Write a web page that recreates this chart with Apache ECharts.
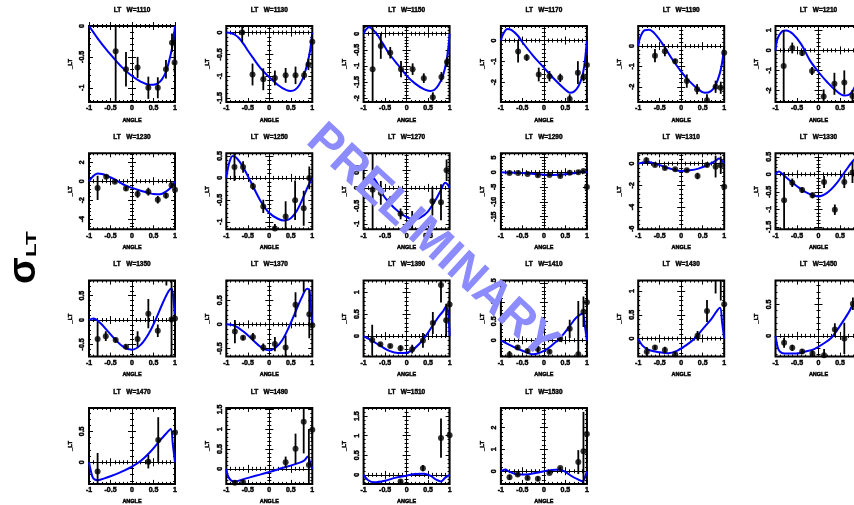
<!DOCTYPE html>
<html>
<head>
<meta charset="utf-8">
<script src="https://cdn.jsdelivr.net/npm/echarts@6/dist/echarts.min.js"></script>
<style>
  html, body { margin: 0; padding: 0; background: #fff; }
  #chart { width: 854px; height: 505px; }
</style>
</head>
<body>
<div id="chart"></div>
<script>
// Beam energies W (MeV), one panel each
const energies = [1110, 1130, 1150, 1170, 1190, 1210,
                  1230, 1250, 1270, 1290, 1310, 1330,
                  1350, 1370, 1390, 1410, 1430, 1450,
                  1470, 1490, 1510, 1530];

// Vertical ranges and major tick step of each panel
const yMin  = [-1.23, -1.59, -2.12, -2.95, -2.75, -2.58, -5.07, -1.17, -1.15, -19.3, -6.05, -1.57,
               -0.75, -0.67, -0.47, -0.43, -0.38, -0.33, -0.35, -0.38, -0.23, -0.58];
const yMax  = [0, 0.15, 0.24, 0.7, 0.99, 1.22, 2.94, 0.56, 0.96, 6.4, 0.95, 0.6,
               0.81, 0.91, 1.27, 1.57, 1.22, 0.88, 0.88, 1.54, 1.71, 2.9];
const yStep = [0.5, 0.5, 0.5, 1, 1, 1, 2, 0.5, 0.5, 5, 2, 0.5,
               0.5, 0.5, 0.5, 0.5, 0.5, 0.5, 0.5, 0.5, 0.5, 1];

// Measurements: [cos(angle), value, error]
const pts1110 = [[-0.38,-0.41,0.9],[-0.14,-0.70,0.28],[0.13,-0.67,0.17],[0.38,-1.0,0.18],[0.60,-1.0,0.17],[0.79,-0.70,0.15],[0.93,-0.27,0.15],[0.99,-0.59,0.16]];
const pts1130 = [[-0.63,0.0,0.22],[-0.39,-0.96,0.25],[-0.14,-1.07,0.25],[0.13,-1.04,0.17],[0.38,-0.98,0.17],[0.61,-0.98,0.2],[0.81,-0.98,0.1],[0.91,-0.73,0.13],[1.0,-0.21,0.17]];
const pts1150 = [[-0.79,-1.1,1.3],[-0.6,-0.38,0.4],[-0.38,-0.59,0.18],[-0.13,-1.1,0.25],[0.14,-1.1,0.18],[0.4,-1.38,0.15],[0.61,-1.97,0.15],[0.81,-1.34,0.15],[0.94,-0.88,0.15]];
const pts1170 = [[-0.6,-0.52,0.53],[-0.4,-0.81,0.16],[-0.12,-1.63,0.33],[0.13,-1.71,0.25],[0.38,-1.79,0.2],[0.6,-2.8,0.22],[0.79,-1.54,0.55],[0.92,-1.76,0.2],[1.0,-1.17,0.45]];
const pts1190 = [[-0.61,-0.47,0.33],[-0.38,-0.25,0.25],[-0.14,-0.75,0.12],[0.13,-1.72,0.33],[0.37,-2.12,0.25],[0.6,-2.67,0.3],[0.8,-2.0,0.3],[0.92,-2.05,0.3],[1.0,-0.33,0.33]];
const pts1210 = [[-0.81,-0.78,1.8],[-0.61,0.12,0.27],[-0.38,-0.13,0.15],[-0.15,-1.03,0.2],[0.12,-2.3,0.35],[0.37,-1.67,0.55],[0.6,-1.6,0.6],[0.79,-2.28,0.3]];
const pts1230 = [[-0.8,-0.71,1.28],[-0.6,0.46,0.2],[-0.4,-0.07,0.15],[-0.14,-0.78,0.2],[0.13,-1.35,0.4],[0.38,-1.1,0.4],[0.6,-1.95,0.4],[0.79,-1.52,0.3],[0.92,-0.43,0.3],[1.0,-0.9,0.3]];
const pts1250 = [[-0.81,0.25,0.32],[-0.61,0.25,0.13],[-0.38,-0.19,0.08],[-0.14,-0.65,0.15],[0.13,-1.15,0.1],[0.38,-0.88,0.35],[0.6,-0.51,0.45],[0.8,-0.69,0.4],[0.93,0.0,0.26]];
const pts1270 = [[-0.79,-0.05,1.1],[-0.6,-0.14,0.33],[-0.38,-0.35,0.12],[-0.14,-0.72,0.15],[0.13,-0.89,0.25],[0.38,-1.35,0.33],[0.6,-0.37,0.4],[0.8,-0.4,0.5],[0.93,0.49,0.3]];
const pts1290 = [[-0.8,-0.3,0.3],[-0.6,-0.3,0.25],[-0.38,-0.6,0.3],[-0.14,-1.0,0.5],[0.13,-0.9,0.4],[0.38,-1.3,0.5],[0.6,-0.2,0.3],[0.8,0.0,0.3],[0.92,0.4,0.4],[1.0,-5.0,0.5]];
const pts1310 = [[-0.81,0.31,0.25],[-0.61,-0.12,0.15],[-0.38,-0.4,0.15],[-0.14,-0.53,0.15],[0.13,-0.62,0.15],[0.38,-1.15,0.3],[0.6,-0.12,0.2],[0.8,-0.28,1.0],[0.92,-0.15,0.8],[1.0,-2.13,0.2]];
const pts1330 = [[-0.8,-0.74,0.8],[-0.61,-0.24,0.12],[-0.38,-0.45,0.08],[-0.14,-0.6,0.08],[0.13,-0.22,0.17],[0.38,-1.01,0.15],[0.6,-0.22,0.17],[0.79,0.05,0.3]];
const pts1350 = [[-0.8,-0.39,0.35],[-0.61,-0.33,0.1],[-0.38,-0.41,0.05],[-0.14,-0.55,0.05],[0.13,-0.39,0.16],[0.38,0.13,0.3],[0.6,-0.22,0.13],[0.8,0.88,0.17],[0.92,0.01,1.0],[1.0,0.03,0.1]];
const pts1370 = [[-0.8,-0.15,0.24],[-0.61,-0.28,0.05],[-0.38,-0.26,0.08],[-0.14,-0.48,0.08],[0.13,-0.41,0.15],[0.38,-0.48,0.25],[0.61,0.41,0.26],[0.8,0.95,0.27],[0.93,0.21,0.5],[1.0,-0.02,0.05]];
const pts1390 = [[-0.8,-0.09,0.35],[-0.61,-0.19,0.04],[-0.38,-0.23,0.04],[-0.14,-0.28,0.07],[0.13,-0.3,0.1],[0.38,-0.1,0.17],[0.61,0.3,0.25],[0.8,1.17,0.4],[0.92,0.36,0.38],[1.0,0.72,0.25]];
const pts1410 = [[-0.8,-0.38,0.1],[-0.61,-0.19,0.05],[-0.38,-0.28,0.05],[-0.14,-0.23,0.1],[0.13,-0.3,0.05],[0.38,0.03,0.06],[0.6,0.3,0.24],[0.8,-0.37,1.4],[0.92,0.75,0.4],[1.0,1.0,0.12]];
const pts1430 = [[-0.8,-0.28,0.1],[-0.61,-0.19,0.05],[-0.38,-0.24,0.07],[-0.14,-0.33,0.05],[0.38,0.06,0.1],[0.6,0.58,0.23],[0.8,1.3,0.35],[0.92,1.25,0.45],[1.0,0.72,0.3]];
const pts1450 = [[-0.8,-0.11,0.08],[-0.61,-0.19,0.05],[-0.38,-0.25,0.04],[-0.14,-0.28,0.05],[0.13,-0.31,0.1],[0.38,0.1,0.1],[0.6,-0.04,0.25],[0.8,0.51,0.1]];
const pts1470 = [[-0.8,-0.15,0.3],[0.38,0.01,0.11],[0.61,0.36,0.37],[1.0,0.48,0.05]];
const pts1490 = [[-0.8,-0.35,0.05],[-0.61,-0.34,0.05],[0.38,0.17,0.14],[0.61,0.51,0.38],[0.8,1.19,0.8],[0.92,0.1,0.9],[1.0,0.99,0.3]];
const pts1510 = [[-0.14,-0.17,0.05],[0.38,0.17,0.08],[0.8,0.94,0.5],[1.0,1.01,0.68]];
const pts1530 = [[-0.8,-0.28,0.12],[-0.61,-0.15,0.08],[-0.38,-0.31,0.08],[-0.14,-0.34,0.1],[0.13,-0.08,0.05],[0.38,0.15,0.05],[0.8,0.42,0.55],[0.92,0.92,1.8],[1.0,1.7,1.3]];

// Model curves: [cos(angle), value]
const fit1110 = [[-1,0],[-0.9,-0.1],[-0.8,-0.2],[-0.6,-0.38],[-0.4,-0.54],[-0.2,-0.69],[0,-0.81],[0.2,-0.9],[0.4,-0.95],[0.5,-0.95],[0.6,-0.93],[0.7,-0.86],[0.8,-0.72],[0.9,-0.46],[0.95,-0.28],[1,0]];
const fit1130 = [[-1,0],[-0.9,-0.01],[-0.8,-0.05],[-0.7,-0.13],[-0.6,-0.26],[-0.5,-0.41],[-0.4,-0.55],[-0.2,-0.82],[0,-1.02],[0.2,-1.2],[0.4,-1.32],[0.5,-1.34],[0.6,-1.31],[0.7,-1.2],[0.8,-1.0],[0.9,-0.65],[0.95,-0.4],[1,0]];
const fit1150 = [[-1,0],[-0.95,0.12],[-0.88,0.2],[-0.8,0.15],[-0.7,0],[-0.6,-0.2],[-0.5,-0.42],[-0.4,-0.63],[-0.2,-0.97],[0,-1.3],[0.2,-1.55],[0.4,-1.72],[0.55,-1.78],[0.65,-1.74],[0.75,-1.58],[0.85,-1.28],[0.92,-0.9],[0.97,-0.45],[1,0]];
const fit1170 = [[-1,0],[-0.95,0.3],[-0.85,0.55],[-0.75,0.5],[-0.6,0.22],[-0.5,-0.08],[-0.25,-0.73],[0,-1.3],[0.25,-1.87],[0.5,-2.36],[0.6,-2.5],[0.7,-2.45],[0.8,-2.2],[0.88,-1.8],[0.94,-1.2],[1,0]];
const fit1190 = [[-1,0],[-0.95,0.45],[-0.85,0.78],[-0.75,0.8],[-0.6,0.58],[-0.4,0],[-0.2,-0.67],[0,-1.25],[0.2,-1.75],[0.4,-2.13],[0.55,-2.3],[0.7,-2.2],[0.8,-1.92],[0.9,-1.33],[0.95,-0.83],[1,0]];
const fit1210 = [[-1,0],[-0.95,0.6],[-0.85,0.95],[-0.75,1.0],[-0.6,0.83],[-0.4,0.3],[-0.2,-0.5],[0,-1.08],[0.2,-1.58],[0.4,-2.0],[0.6,-2.25],[0.7,-2.22],[0.8,-2.0],[0.9,-1.5],[1,0]];
const fit1230 = [[-1,0],[-0.9,0.55],[-0.8,0.8],[-0.7,0.75],[-0.6,0.6],[-0.4,0.18],[-0.2,-0.35],[0,-0.71],[0.2,-1.0],[0.4,-1.24],[0.5,-1.35],[0.65,-1.37],[0.8,-1.06],[0.9,-0.7],[0.95,-0.43],[1,0]];
const fit1250 = [[-1,0],[-0.93,0.35],[-0.85,0.5],[-0.78,0.47],[-0.7,0.38],[-0.6,0.23],[-0.4,-0.15],[-0.2,-0.53],[0,-0.8],[0.2,-0.93],[0.35,-0.97],[0.5,-0.92],[0.65,-0.73],[0.8,-0.42],[0.9,-0.19],[1,0]];
const fit1270 = [[-1,0],[-0.93,0.22],[-0.85,0.3],[-0.75,0.25],[-0.65,0.05],[-0.55,-0.19],[-0.4,-0.42],[-0.2,-0.65],[0,-0.81],[0.15,-0.87],[0.3,-0.84],[0.5,-0.65],[0.7,-0.28],[0.8,-0.05],[0.9,0.14],[0.95,0.1],[1,0]];
const fit1290 = [[-1,0],[-0.6,-0.2],[-0.2,-0.6],[0,-0.85],[0.2,-0.95],[0.5,-0.7],[0.8,-0.1],[0.9,0.2],[1,0]];
const fit1310 = [[-1,0],[-0.8,0.15],[-0.6,0],[-0.4,-0.28],[-0.2,-0.53],[0,-0.68],[0.2,-0.62],[0.4,-0.46],[0.6,-0.15],[0.8,0.25],[0.88,0.46],[0.95,0.25],[1,0]];
const fit1330 = [[-1,0],[-0.92,0.08],[-0.85,0.02],[-0.7,-0.14],[-0.5,-0.34],[-0.3,-0.51],[-0.1,-0.61],[0,-0.63],[0.2,-0.53],[0.4,-0.29],[0.6,0.05],[0.8,0.38],[0.9,0.48],[0.96,0.3],[1,0]];
const fit1350 = [[-1,0],[-0.9,0.03],[-0.75,-0.05],[-0.6,-0.19],[-0.4,-0.39],[-0.2,-0.55],[0,-0.61],[0.2,-0.51],[0.4,-0.26],[0.55,0.01],[0.7,0.32],[0.85,0.59],[0.92,0.65],[0.97,0.35],[1,0]];
const fit1370 = [[-1,0],[-0.8,-0.03],[-0.6,-0.15],[-0.4,-0.31],[-0.2,-0.47],[0,-0.54],[0.15,-0.48],[0.3,-0.33],[0.45,-0.07],[0.6,0.24],[0.75,0.55],[0.88,0.74],[0.93,0.72],[0.97,0.34],[1,0]];
const fit1390 = [[-1,0],[-0.8,-0.11],[-0.6,-0.23],[-0.4,-0.34],[-0.2,-0.39],[0,-0.38],[0.2,-0.27],[0.4,-0.06],[0.6,0.23],[0.75,0.45],[0.85,0.57],[0.92,0.68],[0.97,0.5],[1,0]];
const fit1410 = [[-1,0],[-0.8,-0.12],[-0.6,-0.23],[-0.4,-0.32],[-0.25,-0.37],[0,-0.28],[0.2,-0.12],[0.4,0.09],[0.6,0.37],[0.75,0.59],[0.9,0.7],[0.95,0.4],[1,0]];
const fit1430 = [[-1,0],[-0.9,-0.15],[-0.75,-0.24],[-0.5,-0.29],[-0.3,-0.31],[-0.1,-0.26],[0.1,-0.15],[0.3,-0.01],[0.5,0.2],[0.7,0.41],[0.9,0.65],[0.95,0.34],[1,0]];
const fit1450 = [[-1,0],[-0.95,-0.18],[-0.9,-0.25],[-0.8,-0.28],[-0.5,-0.28],[-0.3,-0.25],[-0.1,-0.21],[0.1,-0.13],[0.3,-0.03],[0.5,0.16],[0.7,0.37],[0.8,0.5],[0.9,0.6],[0.96,0.35],[1,0]];
const fit1470 = [[-1,0],[-0.95,-0.16],[-0.9,-0.26],[-0.8,-0.29],[-0.6,-0.25],[-0.4,-0.2],[-0.2,-0.14],[0,-0.07],[0.2,0.02],[0.4,0.15],[0.6,0.31],[0.8,0.47],[0.9,0.54],[0.95,0.28],[1,0]];
const fit1490 = [[-1,0],[-0.97,-0.15],[-0.9,-0.28],[-0.8,-0.32],[-0.6,-0.26],[-0.3,-0.17],[0,-0.08],[0.3,0.02],[0.6,0.12],[0.8,0.2],[0.9,0.31],[0.95,0.15],[1,0]];
const fit1510 = [[-1,0],[-0.9,-0.13],[-0.75,-0.19],[-0.5,-0.15],[-0.25,-0.07],[0,-0.02],[0.2,0.02],[0.4,0.03],[0.55,-0.02],[0.7,-0.13],[0.8,-0.17],[0.9,-0.07],[1,0]];
const fit1530 = [[-1,0],[-0.9,0.08],[-0.8,-0.03],[-0.6,-0.15],[-0.4,-0.15],[-0.2,-0.08],[0,0],[0.2,0.06],[0.35,0.08],[0.5,-0.03],[0.65,-0.23],[0.8,-0.38],[0.9,-0.46],[0.95,-0.31],[1,0]];

const measured = [pts1110, pts1130, pts1150, pts1170, pts1190, pts1210, pts1230, pts1250, pts1270, pts1290, pts1310,
                  pts1330, pts1350, pts1370, pts1390, pts1410, pts1430, pts1450, pts1470, pts1490, pts1510, pts1530];
const curves = [fit1110, fit1130, fit1150, fit1170, fit1190, fit1210, fit1230, fit1250, fit1270, fit1290, fit1310,
                fit1330, fit1350, fit1370, fit1390, fit1410, fit1430, fit1450, fit1470, fit1490, fit1510, fit1530];

const FONT = '"Liberation Sans", Arial, sans-serif';
const INK = '#000';
const tickLine = { color: INK, width: 1 };
// heavier small print: bold face plus a thin outline
const heavy = { color: INK, fontFamily: FONT, fontWeight: 'bold', textBorderColor: INK, textBorderWidth: 0.45 };

// panel placement
const PANEL_W = 86, PANEL_H = 76;
const COL_STEP = 137.3, ROW_STEP = 127.3;
const LEFT0 = 89, TOP0 = 26;

function ticksBetween(lo, hi, step) {
  const out = [];
  for (let k = Math.ceil(lo / step - 1e-9); k * step <= hi + 1e-9; k++) {
    out.push(+(k * step).toFixed(4));
  }
  return out;
}

const grids = [], xAxes = [], yAxes = [], series = [], graphics = [];

energies.forEach((w, i) => {
  const col = i % 6, row = Math.floor(i / 6);
  const left = LEFT0 + col * COL_STEP;
  const top = TOP0 + row * ROW_STEP;

  grids.push({
    left: left, top: top, width: PANEL_W, height: PANEL_H,
    show: true, borderColor: INK, borderWidth: 2, backgroundColor: 'transparent',
    containLabel: false, outerBoundsMode: 'none'
  });

  const lo = yMin[i], hi = yMax[i], st = yStep[i];
  const major = ticksBetween(lo, hi, st);
  const minor = ticksBetween(lo, hi, st / 5);

  const xIdx = xAxes.length, yIdx = yAxes.length;

  // ---- horizontal axes: bottom frame (labels), top frame, zero line (both tick sides)
  const xBase = {
    gridIndex: i, type: 'value', min: -1, max: 1, interval: 0.5,
    splitLine: { show: false },
    axisLine: { show: false, onZero: false },
    axisLabel: { show: false },
    axisTick: { show: true, inside: true, length: 4, lineStyle: tickLine },
    minorTick: { show: true, splitNumber: 5, length: 2, lineStyle: tickLine }
  };
  xAxes.push(Object.assign({}, xBase, {
    position: 'bottom',
    axisLabel: Object.assign({ show: true, fontSize: 7, margin: 3 }, heavy),
    name: 'ANGLE', nameLocation: 'middle', nameGap: 15,
    nameTextStyle: Object.assign({ fontSize: 5.5 }, heavy)
  }));
  xAxes.push(Object.assign({}, xBase, { position: 'top' }));
  xAxes.push(Object.assign({}, xBase, {
    position: 'bottom',
    axisLine: { show: true, onZero: true, onZeroAxisIndex: yIdx, lineStyle: tickLine }
  }));
  xAxes.push(Object.assign({}, xBase, {
    position: 'bottom',
    axisLine: { show: false, onZero: true, onZeroAxisIndex: yIdx },
    axisTick: { show: true, inside: false, length: 4, lineStyle: tickLine }
  }));

  // ---- vertical axes: left frame (labels), right frame, zero line; major + minor ticks
  const yBase = {
    gridIndex: i, type: 'value', min: lo, max: hi,
    splitLine: { show: false },
    axisLine: { show: false, onZero: false },
    axisLabel: { show: false },
    axisTick: { show: true, inside: true, length: 4, customValues: major, lineStyle: tickLine }
  };
  const minorTicks = (inside) => ({ show: true, inside: inside, length: 2, customValues: minor, lineStyle: tickLine });
  yAxes.push(Object.assign({}, yBase, {
    position: 'left',
    axisLabel: Object.assign({ show: true, customValues: major, rotate: 90, fontSize: 7, margin: 3 }, heavy),
    name: '_LT', nameLocation: 'middle', nameGap: 16, nameRotate: 90,
    nameTextStyle: Object.assign({ fontSize: 6 }, heavy)
  }));
  yAxes.push(Object.assign({}, yBase, { position: 'left', axisTick: minorTicks(true) }));
  yAxes.push(Object.assign({}, yBase, { position: 'right' }));
  yAxes.push(Object.assign({}, yBase, { position: 'right', axisTick: minorTicks(true) }));
  const zeroY = { position: 'left', axisLine: { show: true, onZero: true, onZeroAxisIndex: xIdx, lineStyle: tickLine } };
  const zeroYHidden = { position: 'left', axisLine: { show: false, onZero: true, onZeroAxisIndex: xIdx } };
  yAxes.push(Object.assign({}, yBase, zeroY));
  yAxes.push(Object.assign({}, yBase, zeroYHidden,
    { axisTick: { show: true, inside: false, length: 4, customValues: major, lineStyle: tickLine } }));
  yAxes.push(Object.assign({}, yBase, zeroYHidden, { axisTick: minorTicks(true) }));
  yAxes.push(Object.assign({}, yBase, zeroYHidden, { axisTick: minorTicks(false) }));

  // ---- model curve
  series.push({
    type: 'line', xAxisIndex: xIdx, yAxisIndex: yIdx, data: curves[i],
    smooth: 0.35, showSymbol: false, silent: true, clip: true, z: 3,
    lineStyle: { color: '#0000ff', width: 2 }
  });
  // ---- error bars
  series.push({
    type: 'custom', xAxisIndex: xIdx, yAxisIndex: yIdx, data: measured[i], clip: true, silent: true, z: 4,
    renderItem: function (params, api) {
      const x = api.value(0), y = api.value(1), e = api.value(2);
      const p1 = api.coord([x, y - e]);
      const p2 = api.coord([x, y + e]);
      return {
        type: 'line',
        shape: { x1: p1[0], y1: p1[1], x2: p2[0], y2: p2[1] },
        style: { stroke: INK, lineWidth: 1.8 }
      };
    }
  });
  // ---- measured points
  series.push({
    type: 'scatter', xAxisIndex: xIdx, yAxisIndex: yIdx, data: measured[i], clip: true, silent: true, z: 5,
    symbol: 'circle', symbolSize: 6, itemStyle: { color: INK }
  });

  // ---- panel heading
  graphics.push({
    type: 'text', x: left + PANEL_W / 2, y: top - 16, z: 10, silent: true,
    style: { text: 'LT   W=' + w, font: 'bold 6.5px ' + FONT, fill: INK,
             stroke: INK, lineWidth: 0.4,
             textAlign: 'center', textVerticalAlign: 'middle' }
  });
});

// observable symbol on the left
graphics.push({
  type: 'text', x: 24, y: 284, rotation: Math.PI / 2, z: 10, silent: true,
  style: { text: '\u03c3', font: 'bold 39px ' + FONT, fill: INK, textAlign: 'left', textVerticalAlign: 'middle' }
});
graphics.push({
  type: 'text', x: 32, y: 257, rotation: Math.PI / 2, scaleX: 1.5, z: 10, silent: true,
  style: { text: 'LT', font: 'bold 15px ' + FONT, fill: INK, textAlign: 'left', textVerticalAlign: 'middle' }
});

// status stamp across the figure
graphics.push({
  type: 'text', x: 432, y: 242, rotation: -0.743, z: 100, silent: true,
  style: { text: 'PRELIMINARY', font: 'bold 47px ' + FONT, fill: '#8c8cff',
           textAlign: 'center', textVerticalAlign: 'middle' }
});

const chart = echarts.init(document.getElementById('chart'), null, { renderer: 'canvas' });
chart.setOption({
  animation: false,
  backgroundColor: '#fff',
  grid: grids,
  xAxis: xAxes,
  yAxis: yAxes,
  series: series,
  graphic: { elements: graphics }
});
</script>
</body>
</html>
